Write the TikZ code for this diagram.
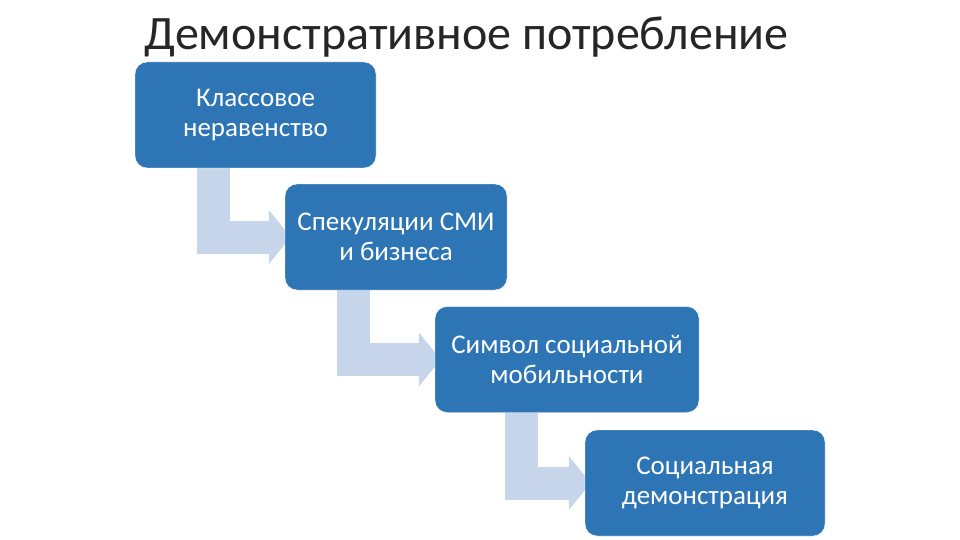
\documentclass[tikz,border=0pt]{standalone}
\usepackage{fontspec}
\setmainfont{Carlito}
\usetikzlibrary{arrows.meta,calc,backgrounds}

\definecolor{boxblue}{RGB}{46,117,182}
\definecolor{arrowblue}{RGB}{198,213,234}

\begin{document}
\begin{tikzpicture}[x=1pt,y=-1pt]
    \tikzstyle{every node}=[font=\fontsize{27}{30}\selectfont]
    \tikzstyle{stepbox}=[fill=boxblue, draw=white, rounded corners=12pt, text=white,
                         align=center, minimum height=106pt, inner sep=0pt]
    \tikzstyle{bentarrow}=[draw=arrowblue, line width=33pt,
                           -{Triangle[width=54pt, length=22pt, line width=0pt]}]

      \useasboundingbox (0,0) rectangle (960,540);

      % title
      \node[anchor=base west, font=\fontsize{48}{54}\selectfont, text=black!85] (title)
         at (141,50) {Демонстративное потребление};

      % steps
      \node[stepbox, minimum width=241pt] (klass) at (255.5,115) {Классовое\\неравенство};
      \node[stepbox, minimum width=222pt] (smi)   at (396,237)   {Спекуляции СМИ\\и бизнеса};
      \node[stepbox, minimum width=264pt] (mob)   at (567,359.5) {Символ социальной\\мобильности};
      \node[stepbox, minimum width=240pt] (demo)  at (705,483)   {Социальная\\демонстрация};

      % bent arrows behind the boxes
      \begin{pgfonlayer}{background}
        \draw[bentarrow] ($(klass.south west)+(79,-10)$) |- ($(smi.west)+(6,0)$);
        \draw[bentarrow] ($(smi.south west)+(69,-10)$)   |- ($(mob.west)+(6,0)$);
        \draw[bentarrow] ($(mob.south west)+(87,-10)$)   |- ($(demo.west)+(6,0)$);
      \end{pgfonlayer}

\end{tikzpicture}
\end{document}
